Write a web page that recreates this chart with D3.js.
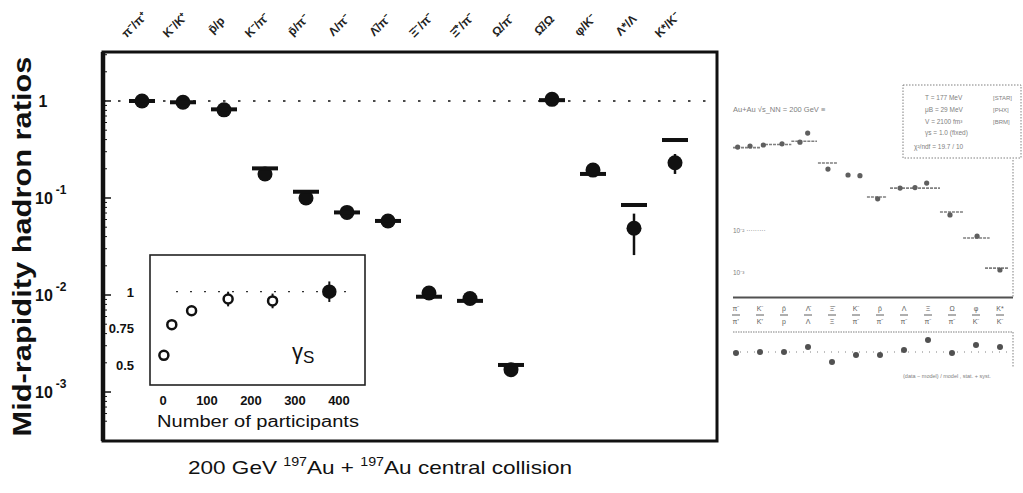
<!DOCTYPE html>
<html>
<head>
<meta charset="utf-8">
<script src="https://cdn.jsdelivr.net/npm/d3@7"></script>
<style>
body { margin: 0; background: #fff; }
svg { display: block; }
text { font-family: "Liberation Sans", Arial, sans-serif; }
</style>
</head>
<body>
<div id="chart"></div>
<script>
var width = 1023, height = 493;

// main panel: measured ratios (dots) and model values (bars)
var ratioNames = ["π⁻/π⁺", "K⁻/K⁺", "p̄/p", "K⁻/π⁻", "p̄/π⁻", "Λ/π⁻", "Λ̄/π⁻", "Ξ⁻/π⁻", "Ξ̄⁺/π⁻", "Ω/π⁻", "Ω̄/Ω", "φ/K⁻", "Λ*/Λ", "K*/K⁻"];
var ratioData  = [1.0, 0.97, 0.81, 0.177, 0.100, 0.071, 0.058, 0.0105, 0.0092, 0.0017, 1.04, 0.194, 0.0487, 0.231];
var ratioModel = [1.0, 0.97, 0.82, 0.202, 0.116, 0.071, 0.058, 0.0096, 0.0087, 0.0019, 1.02, 0.177, 0.0847, 0.396];
var ratioErrLo = [null, null, null, null, null, null, null, null, null, null, null, null, 0.0258, 0.177];
var ratioErrHi = [null, null, null, null, null, null, null, null, null, null, null, null, 0.069, 0.284];
var yTicks = [1, 0.1, 0.01, 0.001];

// inset: gamma_s vs number of participants
var insetNpart = [2, 20, 65, 148, 249, 378];
var insetGamma = [0.566, 0.775, 0.87, 0.95, 0.937, 1.0];
var insetErr   = [0, 0, 0.02, 0.05, 0.05, 0.07];
var insetFilled = [false, false, false, false, false, true];
var insetXTicks = [0, 100, 200, 300, 400];
var insetYTicks = [0.5, 0.75, 1];

// faded right-hand panel (second figure, mostly illegible in the scan)
var rBarFrom = [0, 1.2, 2.5, 3.64, 5.74, 6.73, 8.87, 9.86, 10.8];
var rBarTo   = [1.2, 2.5, 3.6, 4.46, 6.6, 8.87, 9.86, 11.0, 11.8];
var rBarVal  = [0.62, 0.74, 0.9, 0.252, 0.0345, 0.058, 0.0144, 0.00314, 0.00054];
var rPtPos = [0.2, 0.73, 1.3, 2.1, 2.87, 3.2, 4.07, 4.93, 5.44, 6.2, 7.16, 7.8, 8.3, 9.3, 10.46, 11.44];
var rPtVal = [0.64, 0.68, 0.72, 0.77, 0.85, 1.45, 0.177, 0.125, 0.12, 0.031, 0.058, 0.06, 0.078, 0.0121, 0.0035, 0.000484];
var rNum = ["π⁻", "K⁻", "p̄", "Λ̄", "Ξ̄", "K⁻", "p̄", "Λ", "Ξ", "Ω", "φ", "K*"];
var rDen = ["π⁺", "K⁺", "p", "Λ", "Ξ", "π⁻", "π⁻", "π⁻", "π⁻", "π⁻", "K⁻", "K⁻"];
var rDev = [0.98, 1.0, 1.0, 1.1, 0.8, 0.94, 0.94, 1.04, 1.24, 0.98, 1.14, 1.1];
var rLegend = ["T  =  177 MeV", "μB =  29 MeV", "V  =  2100 fm³", "γs =  1.0 (fixed)", "χ²/ndf = 19.7 / 10"];
var rLegendSrc = ["[STAR]", "[PHX]", "[BRM]"];

var ink = "#111";

var svg = d3.select("#chart").append("svg")
	.attr("width", width)
	.attr("height", height)
	.attr("viewBox", [0, 0, width, height]);

// ---------- main panel ----------
var frame = {l: 103, t: 52, r: 717, b: 441};

var x = d3.scalePoint()
	.domain(d3.range(ratioNames.length))
	.range([142, 675]);

var y = d3.scaleLog()
	.domain([Math.pow(10, -3.505), Math.pow(10, 0.505)])
	.range([frame.b, frame.t]);

var gMain = svg.append("g");

// dotted line at ratio = 1
gMain.append("line")
	.attr("x1", frame.l).attr("x2", frame.r)
	.attr("y1", y(1)).attr("y2", y(1))
	.attr("stroke", ink).attr("stroke-width", 1.6)
	.attr("stroke-dasharray", "2.5,12.5");

// minor ticks on left axis
var minor = [];
yTicks.forEach(function(t) { for (var m = 2; m < 10; m++) minor.push(t * m); });
minor.push(0.0005, 0.0006, 0.0007, 0.0008, 0.0009);
gMain.selectAll(".minor")
	.data(minor.filter(function(d) { return y(d) > frame.t && y(d) < frame.b; }))
	.join("line")
	.attr("x1", frame.l).attr("x2", frame.l + 4)
	.attr("y1", function(d) { return y(d); }).attr("y2", function(d) { return y(d); })
	.attr("stroke", ink).attr("stroke-width", 1);
gMain.selectAll(".major")
	.data(yTicks)
	.join("line")
	.attr("x1", frame.l).attr("x2", frame.l + 8)
	.attr("y1", function(d) { return y(d); }).attr("y2", function(d) { return y(d); })
	.attr("stroke", ink).attr("stroke-width", 1.5);

// frame
gMain.append("rect")
	.attr("x", frame.l).attr("y", frame.t)
	.attr("width", frame.r - frame.l).attr("height", frame.b - frame.t)
	.attr("fill", "none").attr("stroke", ink).attr("stroke-width", 3);
gMain.append("line")
	.attr("x1", frame.l).attr("x2", frame.l)
	.attr("y1", frame.t).attr("y2", frame.b)
	.attr("stroke", ink).attr("stroke-width", 4.5);

// y tick labels
var yLab = gMain.selectAll(".ylab")
	.data(yTicks)
	.join("text")
	.attr("y", function(d) { return y(d) + 6; })
	.attr("font-size", 16).attr("font-weight", "bold").attr("fill", ink);
yLab.each(function(d) {
	var t = d3.select(this);
	if (d === 1) {
		t.attr("x", 43).attr("text-anchor", "middle").text("1");
	} else {
		t.attr("x", 35);
		t.append("tspan").text("10");
		t.append("tspan").attr("font-size", 12).attr("dx", 3).attr("dy", -10)
			.text("-" + Math.round(-Math.log10(d)));
	}
});

// y axis title
svg.append("text")
	.attr("transform", "translate(31," + (frame.t + frame.b) / 2 + ") rotate(-90)")
	.attr("text-anchor", "middle")
	.attr("font-size", 25).attr("font-weight", "bold").attr("fill", ink)
	.attr("textLength", 380).attr("lengthAdjust", "spacingAndGlyphs")
	.text("Mid-rapidity hadron ratios");

// category labels on top
svg.selectAll(".cat")
	.data(ratioNames)
	.join("text")
	.attr("transform", function(d, i) { return "translate(" + (x(i) - 5) + ",28) rotate(-45)"; })
	.attr("text-anchor", "middle")
	.attr("font-size", 12).attr("font-weight", "bold").attr("fill", "#222")
	.text(function(d) { return d; });

// error bars
gMain.selectAll(".err")
	.data(d3.range(ratioNames.length).filter(function(i) { return ratioErrLo[i] != null; }))
	.join("line")
	.attr("x1", function(i) { return x(i); }).attr("x2", function(i) { return x(i); })
	.attr("y1", function(i) { return y(ratioErrLo[i]); })
	.attr("y2", function(i) { return y(ratioErrHi[i]); })
	.attr("stroke", ink).attr("stroke-width", 2.5);

// data dots
gMain.selectAll(".dot")
	.data(ratioData)
	.join("circle")
	.attr("cx", function(d, i) { return x(i); })
	.attr("cy", function(d) { return y(d); })
	.attr("r", 7.5)
	.attr("fill", ink);

// model bars
gMain.selectAll(".model")
	.data(ratioModel)
	.join("rect")
	.attr("x", function(d, i) { return x(i) - 13; })
	.attr("y", function(d) { return y(d) - 2; })
	.attr("width", 26).attr("height", 4)
	.attr("fill", ink);

// x title
var xt = svg.append("text")
	.attr("x", 380).attr("y", 474)
	.attr("text-anchor", "middle")
	.attr("font-size", 19).attr("fill", ink)
	.attr("textLength", 384).attr("lengthAdjust", "spacingAndGlyphs");
xt.append("tspan").text("200 GeV ");
xt.append("tspan").attr("font-size", 12).attr("dy", -8).text("197");
xt.append("tspan").attr("dy", 8).text("Au + ");
xt.append("tspan").attr("font-size", 12).attr("dy", -8).text("197");
xt.append("tspan").attr("dy", 8).text("Au central collision");

// ---------- inset ----------
var inset = {l: 150, t: 255, r: 365, b: 385};
var ix = d3.scaleLinear().domain([0, 400]).range([163, 339]);
var iy = d3.scaleLinear().domain([0.5, 1]).range([365, 291.7]);
var gIn = svg.append("g");

gIn.append("rect")
	.attr("x", inset.l).attr("y", inset.t)
	.attr("width", inset.r - inset.l).attr("height", inset.b - inset.t)
	.attr("fill", "#fff").attr("stroke", "#222").attr("stroke-width", 1.6);

gIn.append("line")
	.attr("x1", 176).attr("x2", 352)
	.attr("y1", iy(1)).attr("y2", iy(1))
	.attr("stroke", "#333").attr("stroke-width", 1.2)
	.attr("stroke-dasharray", "2,12");

gIn.selectAll(".iyl")
	.data(insetYTicks)
	.join("text")
	.attr("x", 134).attr("y", function(d) { return iy(d) + 5; })
	.attr("text-anchor", "end")
	.attr("font-size", 13).attr("font-weight", "bold").attr("fill", ink)
	.text(function(d) { return d; });

gIn.selectAll(".ixl")
	.data(insetXTicks)
	.join("text")
	.attr("x", function(d) { return ix(d); }).attr("y", 405)
	.attr("text-anchor", "middle")
	.attr("font-size", 13).attr("font-weight", "bold").attr("fill", ink)
	.text(function(d) { return d; });

gIn.append("text")
	.attr("x", 258).attr("y", 427)
	.attr("text-anchor", "middle")
	.attr("font-size", 16).attr("fill", ink)
	.attr("textLength", 202).attr("lengthAdjust", "spacingAndGlyphs")
	.text("Number of participants");

var gs = gIn.append("text")
	.attr("x", 292).attr("y", 359)
	.attr("font-size", 22).attr("fill", ink);
gs.append("tspan").text("γ");
gs.append("tspan").attr("font-size", 17).attr("dy", 4).text("S");

gIn.selectAll(".ierr")
	.data(d3.range(insetNpart.length).filter(function(i) { return insetErr[i] > 0; }))
	.join("line")
	.attr("x1", function(i) { return ix(insetNpart[i]); })
	.attr("x2", function(i) { return ix(insetNpart[i]); })
	.attr("y1", function(i) { return iy(insetGamma[i] - insetErr[i]); })
	.attr("y2", function(i) { return iy(insetGamma[i] + insetErr[i]); })
	.attr("stroke", ink).attr("stroke-width", 2);

gIn.selectAll(".ipt")
	.data(insetGamma)
	.join("circle")
	.attr("cx", function(d, i) { return ix(insetNpart[i]); })
	.attr("cy", function(d) { return iy(d); })
	.attr("r", function(d, i) { return insetFilled[i] ? 6 : 4.5; })
	.attr("fill", function(d, i) { return insetFilled[i] ? ink : "#fff"; })
	.attr("stroke", ink).attr("stroke-width", 2.5);

// ---------- faded right panel ----------
var grey = "#6a6a6a";
var xR = d3.scaleLinear().domain([0, 12]).range([733, 1013]);
var yR = d3.scaleLog().domain([1e-4, 10]).range([297, 100]);
var cR = d3.scalePoint().domain(d3.range(rNum.length)).range([736, 1000]);
var yD = d3.scaleLinear().domain([0.5, 1.5]).range([377, 327]);
var gR = svg.append("g").attr("opacity", 0.85);

gR.append("text")
	.attr("x", 733).attr("y", 112)
	.attr("font-size", 7.5).attr("fill", grey)
	.text("Au+Au  √s_NN = 200 GeV   ≡");

gR.selectAll(".rbar")
	.data(rBarVal)
	.join("line")
	.attr("x1", function(d, i) { return xR(rBarFrom[i]); })
	.attr("x2", function(d, i) { return xR(rBarTo[i]); })
	.attr("y1", function(d) { return yR(d); })
	.attr("y2", function(d) { return yR(d); })
	.attr("stroke", grey).attr("stroke-width", 1.6)
	.attr("stroke-dasharray", "3,1");

gR.selectAll(".rpt")
	.data(rPtVal)
	.join("circle")
	.attr("cx", function(d, i) { return xR(rPtPos[i]); })
	.attr("cy", function(d) { return yR(d); })
	.attr("r", 2.6)
	.attr("fill", "#444");

[0.01, 0.001].forEach(function(v, k) {
	gR.append("text")
		.attr("x", 733).attr("y", k === 0 ? 233 : 275)
		.attr("font-size", 6.5).attr("fill", grey)
		.text(k === 0 ? "10⁻² ·········" : "10⁻³");
});

// legend box
gR.append("rect")
	.attr("x", 903).attr("y", 85).attr("width", 118).attr("height", 73)
	.attr("fill", "none").attr("stroke", grey).attr("stroke-width", 1)
	.attr("stroke-dasharray", "1.5,1.5");
gR.selectAll(".rleg")
	.data(rLegend)
	.join("text")
	.attr("x", function(d, i) { return i < 4 ? 925 : 914; })
	.attr("y", function(d, i) { return [100, 112, 124, 135, 149][i]; })
	.attr("font-size", 6.5).attr("fill", grey)
	.text(function(d) { return d; });
gR.selectAll(".rsrc")
	.data(rLegendSrc)
	.join("text")
	.attr("x", 993).attr("y", function(d, i) { return 100 + 12 * i; })
	.attr("font-size", 6).attr("fill", grey)
	.text(function(d) { return d; });

// panel edges
gR.append("line")
	.attr("x1", 733).attr("x2", 1013).attr("y1", 297.5).attr("y2", 297.5)
	.attr("stroke", "#333").attr("stroke-width", 2);
gR.append("line")
	.attr("x1", 1013).attr("x2", 1013).attr("y1", 160).attr("y2", 297)
	.attr("stroke", grey).attr("stroke-width", 1).attr("stroke-dasharray", "1.5,1.5");
gR.append("line")
	.attr("x1", 733).attr("x2", 1013).attr("y1", 332).attr("y2", 332)
	.attr("stroke", grey).attr("stroke-width", 1).attr("stroke-dasharray", "1.5,1");
gR.append("line")
	.attr("x1", 1013).attr("x2", 1013).attr("y1", 332).attr("y2", 367)
	.attr("stroke", grey).attr("stroke-width", 1).attr("stroke-dasharray", "1.5,1.5");
gR.append("line")
	.attr("x1", 733).attr("x2", 1010).attr("y1", yD(1)).attr("y2", yD(1))
	.attr("stroke", grey).attr("stroke-width", 1).attr("stroke-dasharray", "1,6");

// fraction labels
gR.selectAll(".rnum")
	.data(rNum)
	.join("text")
	.attr("x", function(d, i) { return cR(i); }).attr("y", 311)
	.attr("text-anchor", "middle").attr("font-size", 7).attr("fill", "#444")
	.text(function(d) { return d; });
gR.selectAll(".rfr")
	.data(rNum)
	.join("line")
	.attr("x1", function(d, i) { return cR(i) - 4; })
	.attr("x2", function(d, i) { return cR(i) + 4; })
	.attr("y1", 315).attr("y2", 315)
	.attr("stroke", "#444").attr("stroke-width", 1);
gR.selectAll(".rden")
	.data(rDen)
	.join("text")
	.attr("x", function(d, i) { return cR(i); }).attr("y", 324)
	.attr("text-anchor", "middle").attr("font-size", 7).attr("fill", "#444")
	.text(function(d) { return d; });

gR.selectAll(".rdev")
	.data(rDev)
	.join("circle")
	.attr("cx", function(d, i) { return cR(i); })
	.attr("cy", function(d) { return yD(d); })
	.attr("r", 3)
	.attr("fill", "#333");

gR.append("text")
	.attr("x", 903).attr("y", 378)
	.attr("font-size", 5.5).attr("fill", grey)
	.text("(data − model) / model , stat. + syst.");
</script>
</body>
</html>
